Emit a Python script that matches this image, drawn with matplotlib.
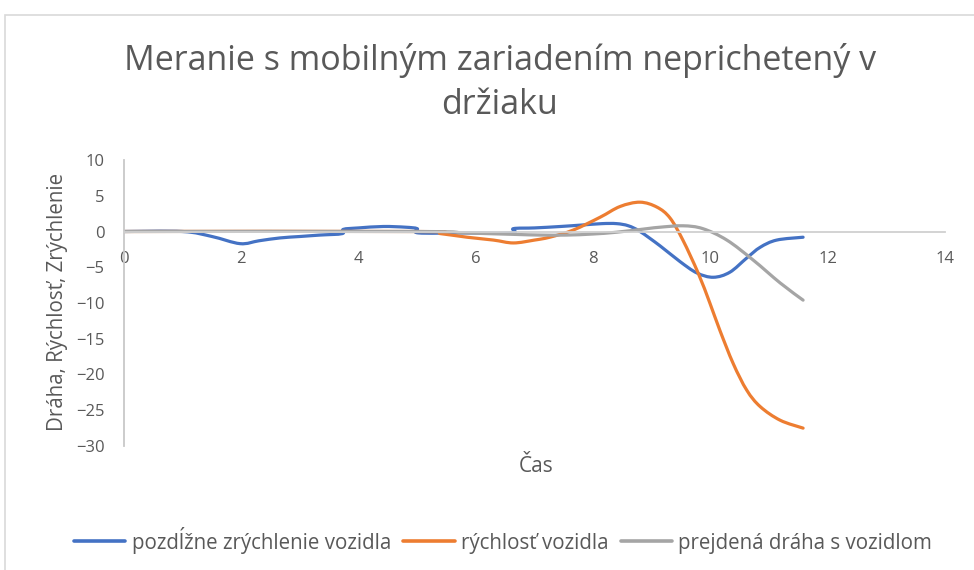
import matplotlib
matplotlib.use('Agg')
import matplotlib.pyplot as plt
from matplotlib.patches import Rectangle, PathPatch
from matplotlib.path import Path
from matplotlib.lines import Line2D

plt.rcParams['font.family'] = ['Open Sans', 'DejaVu Sans']

# ─── data ────────────────────────────────────────────────────────
t_acc = [0, 1.0, 1.5, 1.98, 2.3, 2.66, 3.0, 3.34, 3.72, 3.74, 4.0, 4.42, 4.8, 5.0,
         5.02, 5.8, 6.62, 6.64, 7.0, 7.44, 7.8, 8.15, 8.4, 8.6, 8.8, 9.14, 9.48,
         9.77, 10.05, 10.33, 10.62, 10.85, 11.13, 11.58]
acc = [0, 0, -0.7, -1.7, -1.3, -0.9, -0.7, -0.5, -0.3, 0.3, 0.5, 0.7, 0.6, 0.4,
       -0.2, -0.2, -0.2, 0.4, 0.5, 0.7, 0.9, 1.1, 1.1, 0.8, 0.0, -2.0, -4.2,
       -5.8, -6.4, -5.7, -3.7, -2.2, -1.2, -0.8]

t_vel = [0, 5.0, 5.4, 5.85, 6.3, 6.64, 7.0, 7.26, 7.66, 8.12, 8.46, 8.8, 9.09,
         9.31, 9.53, 9.79, 9.99, 10.16, 10.39, 10.62, 10.85, 11.19, 11.58]
vel = [0, 0, -0.3, -0.8, -1.2, -1.6, -1.2, -0.8, 0.2, 2.0, 3.5, 4.1, 3.4,
       1.9, -1.2, -5.8, -10.0, -13.8, -18.5, -22.2, -24.5, -26.4, -27.5]

t_dist = [0, 5.0, 5.8, 6.64, 7.1, 7.55, 8.0, 8.4, 8.92, 9.14, 9.53, 9.87,
          10.28, 10.73, 11.19, 11.58]
dist = [0, 0, -0.2, -0.4, -0.5, -0.5, -0.35, -0.1, 0.4, 0.6, 0.8, 0.4,
        -1.2, -4.0, -7.2, -9.6]

labels = ['pozdĺžne zrýchlenie vozidla', 'rýchlosť vozidla', 'prejdená dráha s vozidlom']
colors = ['#4472C4', '#ED7D31', '#A5A5A5']
x_ticks = [0, 2, 4, 6, 8, 10, 12, 14]
y_ticks = [10, 5, 0, -5, -10, -15, -20, -25, -30]

TXT = '#595959'
W, H = 974, 570


def smooth_path(xs, ys):
    # Excel-style smoothed line: cubic Bezier through the points
    n = len(xs)
    verts = [(xs[0], ys[0])]
    codes = [Path.MOVETO]
    for i in range(n - 1):
        x0, y0 = xs[max(i - 1, 0)], ys[max(i - 1, 0)]
        x1, y1 = xs[i], ys[i]
        x2, y2 = xs[i + 1], ys[i + 1]
        x3, y3 = xs[min(i + 2, n - 1)], ys[min(i + 2, n - 1)]
        c1 = (x1 + (x2 - x0) / 6, y1 + (y2 - y0) / 6)
        c2 = (x2 - (x3 - x1) / 6, y2 - (y3 - y1) / 6)
        verts += [c1, c2, (x2, y2)]
        codes += [Path.CURVE4] * 3
    return Path(verts, codes)


fig = plt.figure(figsize=(W / 100, H / 100), dpi=100)
fig.patches.append(Rectangle((5 / W, -0.1), 1.2, 1 - 15 / H + 0.1,
                             transform=fig.transFigure, fill=False,
                             edgecolor='#d9d9d9', lw=1.2))

ax = fig.add_axes([124 / W, 1 - 446 / H, (945 - 124) / W, (446 - 160) / H])
ax.set_xlim(0, 14)
ax.set_ylim(-30, 10)

for s in ['top', 'right']:
    ax.spines[s].set_visible(False)
ax.spines['bottom'].set_position(('data', 0))
ax.spines['bottom'].set_color('#d0d0d0')
ax.spines['left'].set_color('#c8c8c8')
ax.spines['bottom'].set_linewidth(1.3)
ax.spines['left'].set_linewidth(1.3)

handles = []
for (tx, vy), lab, col in zip([(t_acc, acc), (t_vel, vel), (t_dist, dist)], labels, colors):
    ax.add_patch(PathPatch(smooth_path(tx, vy), fill=False, edgecolor=col, lw=2.3,
                           joinstyle='round', capstyle='round'))
    handles.append(Line2D([], [], color=col, lw=2.6, solid_capstyle='round', label=lab))

ax.set_xticks(x_ticks)
ax.set_yticks(y_ticks)
ax.tick_params(length=0, labelsize=12, labelcolor=TXT)
ax.tick_params(axis='x', pad=14)
ax.tick_params(axis='y', pad=14)

fig.text(57 / W, 1 - 302 / H, 'Dráha, Rýchlosť, Zrýchlenie', rotation=90,
         ha='center', va='center', fontsize=14.8, color=TXT)
fig.text(536 / W, 1 - 466 / H, 'Čas', ha='center', va='center', fontsize=15, color=TXT)

fig.text(500 / W, 1 - 60 / H, 'Meranie s mobilným zariadením neprichetený v',
         ha='center', va='center', fontsize=24.5, color=TXT)
fig.text(500 / W, 1 - 105 / H, 'držiaku',
         ha='center', va='center', fontsize=24.5, color=TXT)

fig.legend(handles=handles, loc='center', bbox_to_anchor=(503 / W, 1 - 540 / H), ncol=3,
           frameon=False, fontsize=14.8, handlelength=2.5, handletextpad=0.3,
           columnspacing=0.6, labelcolor=TXT)

fig.savefig('out.png', dpi=100, facecolor='white')
